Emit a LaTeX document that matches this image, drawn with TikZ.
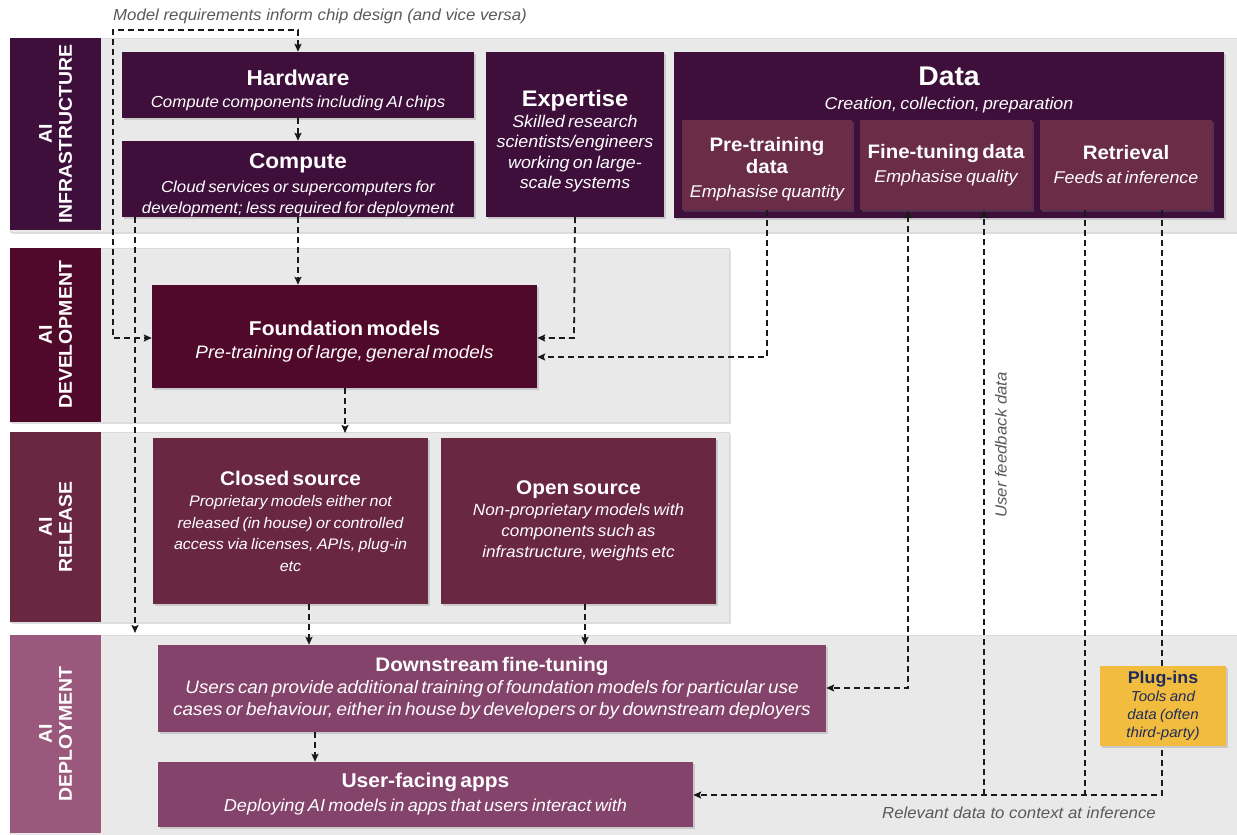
\documentclass[tikz,border=0pt]{standalone}
\usepackage{fontspec}
\setmainfont[FakeStretch=1.05]{Liberation Sans}
\usetikzlibrary{arrows.meta,shadows}
\definecolor{infra}{HTML}{3E0F3B}
\definecolor{datasub}{HTML}{6A2C47}
\definecolor{dev}{HTML}{51092B}
\definecolor{rel}{HTML}{6A2742}
\definecolor{depl}{HTML}{9A587C}
\definecolor{deplbox}{HTML}{84436A}
\definecolor{bandgray}{HTML}{E9E9E9}
\definecolor{plug}{HTML}{F2BC3E}
\definecolor{plugtxt}{HTML}{1F2B5B}
\definecolor{capgray}{HTML}{5A5A5A}
\definecolor{dashcol}{HTML}{1A1A1A}
\newcommand\mytitle[3]{{\fontsize{#1}{#2}\selectfont\bfseries #3\par}}
\newcommand\mybody[3]{{\fontsize{#1}{#2}\selectfont\itshape #3\par}}
\begin{document}
\begin{tikzpicture}[x=1pt,y=-1pt,
  bandst/.style={fill=bandgray, draw=black!14, line width=0.6pt, inner sep=0pt,
     drop shadow={opacity=0.25,shadow xshift=1.5pt,shadow yshift=-1.5pt}},
  labst/.style={fill=#1, text=white, rotate=90, align=center, inner sep=0pt,
     font=\fontsize{18.5}{20}\selectfont\bfseries},
  box/.style={fill=#1, text=white, align=center, inner sep=0pt,
     drop shadow={opacity=0.3,shadow xshift=1.5pt,shadow yshift=-1.5pt}},
  dl/.style={draw=dashcol, line width=1.8pt, dash pattern=on 6pt off 4pt},
  tip/.style={-{Stealth[length=8pt,width=7pt,inset=1.5pt]}},
  tips/.style={{Stealth[length=8pt,width=7pt,inset=1.5pt]}-{Stealth[length=8pt,width=7pt,inset=1.5pt]}},
  capst/.style={text=capgray, font=\fontsize{16}{19}\selectfont\itshape, inner sep=0pt}
]
\useasboundingbox (0,0) rectangle (1237,835);
\fill[white] (0,0) rectangle (1237,835);

% bands
\node[bandst, anchor=north west, minimum width=1227, minimum height=194] (binf) at (10,38) {};
\node[bandst, anchor=north west, minimum width=719, minimum height=174] (bdev) at (10,248) {};
\node[bandst, anchor=north west, minimum width=719, minimum height=190] (brel) at (10,432) {};
\node[bandst, anchor=north west, minimum width=1227, minimum height=200] (bdep) at (10,635) {};

% stage labels
\node[labst=infra, minimum width=192, minimum height=91] (linf) at (55.5,134) {AI\\INFRASTRUCTURE};
\node[labst=dev, minimum width=174, minimum height=91] (ldev) at (55.5,335) {AI\\DEVELOPMENT};
\node[labst=rel, minimum width=190, minimum height=91] (lrel) at (55.5,527) {AI\\RELEASE};
\node[labst=depl, minimum width=198, minimum height=91] (ldep) at (55.5,734) {AI\\DEPLOYMENT};

% captions
\node[capst, anchor=west] (captop) at (113,16) {Model requirements inform chip design (and vice versa)};
\node[capst] (capbot) at (1019,813) {Relevant data to context at inference};
\node[capst, rotate=90] (ufd) at (1001,445) {User feedback data};

% helper coordinates for connector bends
\coordinate (l1) at (113,30);
\coordinate (l2) at (113,338);
\coordinate (c1) at (135,633);
\coordinate (e1) at (574,338);
\coordinate (p1) at (767,357);
\coordinate (f1) at (908,688);
\coordinate (f2) at (984,795);
\coordinate (r1) at (1085,795);
\coordinate (r2) at (1162,795);
\coordinate (fr) at (345,433);
\coordinate (cd) at (309,0);
\coordinate (od) at (585,0);
\coordinate (da) at (315,0);

% infrastructure boxes
\node[box=infra, minimum width=352, minimum height=66, text width=344] (hw) at (298,85)
  {\mytitle{21.5}{25}{\rule{0pt}{27pt}Hardware}\mybody{16}{22}{Compute components including AI chips}};
\node[box=infra, minimum width=352, minimum height=76, text width=344] (comp) at (298,179)
  {\mytitle{21.5}{25}{\rule{0pt}{26.5pt}Compute}\vspace{3pt}\mybody{16}{21}{Cloud services or supercomputers for\\development; less required for deployment}};
\node[box=infra, minimum width=178, minimum height=165, text width=174] (exp) at (575,134.5)
  {\mytitle{22.5}{26}{\rule{0pt}{30.5pt}Expertise}\mybody{17}{20.5}{Skilled research\\scientists/engineers\\working on large-\\scale systems}};
\node[box=infra, minimum width=550, minimum height=166] (data) at (949,135) {};
\node[text=white, align=center, inner sep=0pt, text width=540] (datatxt) at (949,90)
  {\mytitle{27}{29}{Data}\mybody{17}{24}{Creation, collection, preparation}};
\node[box=datasub, minimum width=170, minimum height=90, text width=166] (pre) at (767,165)
  {\mytitle{19.5}{22}{\rule{0pt}{23.5pt}Pre-training\\data}\mybody{17}{24}{Emphasise quantity}};
\node[box=datasub, minimum width=172, minimum height=90, text width=170] (fine) at (946,165)
  {\mytitle{19.5}{22}{Fine-tuning data}\mybody{17}{24}{Emphasise quality}};
\node[box=datasub, minimum width=172, minimum height=90, text width=170] (ret) at (1126,165)
  {\mytitle{19.5}{22}{Retrieval}\mybody{17}{24}{Feeds at inference}};

% development
\node[box=dev, minimum width=385, minimum height=103, text width=375] (fm) at (344.5,336.5)
  {\mytitle{20}{23}{\rule{0pt}{25pt}Foundation models}\mybody{18}{23}{Pre-training of large, general models}};

% release
\node[box=rel, minimum width=275, minimum height=166, text width=268] (closed) at (290.5,521)
  {\mytitle{19.8}{23}{Closed source}\mybody{15.3}{21.5}{Proprietary models either not\\released (in house) or controlled\\access via licenses, APIs, plug-in\\etc}};
\node[box=rel, minimum width=275, minimum height=166, text width=268] (open) at (578.5,521)
  {\mytitle{19.8}{23}{Open source}\mybody{16.3}{21}{Non-proprietary models with\\components such as\\infrastructure, weights etc}};

% deployment
\node[box=deplbox, minimum width=668, minimum height=87, text width=664] (down) at (492,688.5)
  {\mytitle{19.6}{23}{Downstream fine-tuning}\mybody{18}{22}{Users can provide additional training of foundation models for particular use\\cases or behaviour, either in house by developers or by downstream deployers}};
\node[box=deplbox, minimum width=535, minimum height=65, text width=530] (apps) at (425.5,794.5)
  {\mytitle{20}{23}{User-facing apps}\mybody{17.3}{24}{Deploying AI models in apps that users interact with}};

% connectors
\draw[dl, tips] (hw.north) -- (hw.north |- l1) -- (l1) -- (l2) -- (fm.west |- l2);
\draw[dl, tip] (hw.south) -- (comp.north);
\draw[dl, tip] (comp.south) -- (comp.south |- fm.north);
\draw[dl, tip] (c1 |- comp.south) -- (c1);
\draw[dl, tip] (exp.south) -- (e1) -- (fm.east |- e1);
\draw[dl, tip] (pre.south) -- (p1) -- (fm.east |- p1);
\draw[dl, tip] (fm.south -| fr) -- (fr);
\draw[dl, tip] (cd |- closed.south) -- (cd |- down.north);
\draw[dl, tip] (od |- open.south) -- (od |- down.north);
\draw[dl, tip] (da |- down.south) -- (da |- apps.north);
\draw[dl, tips] (f1 |- fine.south) -- (f1) -- (down.east |- f1);
\draw[dl, tip] (f2) -- (f2 |- fine.south);
\draw[dl] (r1 |- ret.south) -- (r1);
\draw[dl, tip] (r2 |- ret.south) -- (r2) -- (apps.east |- r2);

% plug-ins (on top of the retrieval line)
\node[fill=plug, align=center, inner sep=0pt, minimum width=126, minimum height=80, text width=122,
  text=plugtxt, drop shadow={opacity=0.3,shadow xshift=1.5pt,shadow yshift=-1.5pt}] (plug) at (1163,706)
  {\mytitle{17}{19}{Plug-ins}\mybody{14.4}{18}{Tools and\\data (often\\third-party)}};
\end{tikzpicture}
\end{document}
